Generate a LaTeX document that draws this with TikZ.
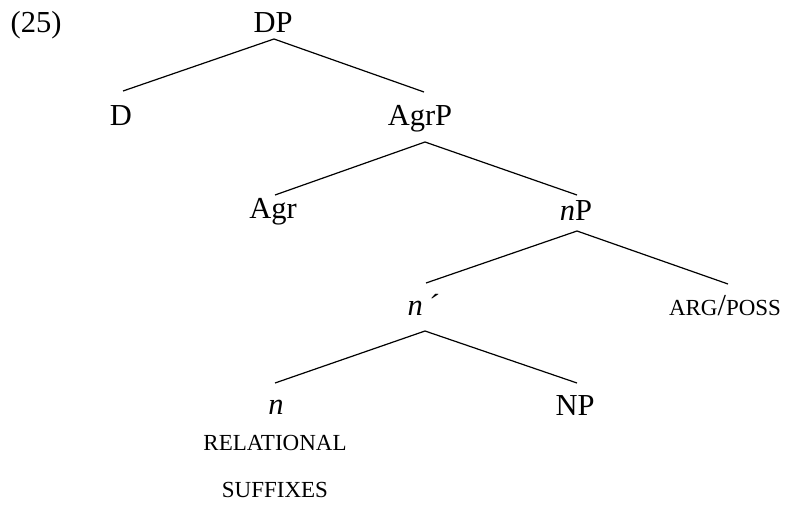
\documentclass[tikz,border=0pt]{standalone}
\usepackage{fontspec}
\setmainfont{Liberation Serif}
% small capitals set as reduced capitals
\newcommand{\smallcapstext}[1]{{\fontsize{23}{27}\selectfont\MakeUppercase{#1}}}
\begin{document}
\begin{tikzpicture}[x=1pt,y=-1pt,
  lbl/.style={inner sep=0pt,anchor=base,font=\fontsize{30.5}{36}\selectfont},
  branch/.style={line width=1.2pt,black}]
\useasboundingbox (0,0) rectangle (786,506);

% example number
\node[lbl] (ex) at (36,32) {(25)};

% tree labels
\node[lbl] (DP)   at (273,32)  {DP};
\node[lbl] (D)    at (121,125) {D};
\node[lbl] (AgrP) at (420,125) {AgrP};
\node[lbl] (Agr)  at (273,218) {Agr};
\node[lbl] (nP)   at (576,220) {\textit{n}P};
\node[lbl] (nbar) at (423,315) {\textit{n\,´}};
\node[lbl] (arg)  at (725,315) {\smallcapstext{arg}/\smallcapstext{poss}};
\node[lbl] (n)    at (276,414) {\textit{n}};
\node[lbl] (NP)   at (575,415) {NP};
\node[lbl] (rel)  at (275,450) {\smallcapstext{relational}};
\node[lbl] (suf)  at (275,497) {\smallcapstext{suffixes}};

% branches
\draw[branch] ([xshift=1pt,yshift=-7pt]DP.base)    -- ([xshift=2pt,yshift=34pt]D.base);
\draw[branch] ([xshift=1pt,yshift=-7pt]DP.base)    -- ([xshift=4pt,yshift=33pt]AgrP.base);
\draw[branch] ([xshift=5pt,yshift=-17pt]AgrP.base) -- ([xshift=2pt,yshift=23pt]Agr.base);
\draw[branch] ([xshift=5pt,yshift=-17pt]AgrP.base) -- ([xshift=1pt,yshift=25pt]nP.base);
\draw[branch] ([xshift=1pt,yshift=-11pt]nP.base)   -- ([xshift=3pt,yshift=32pt]nbar.base);
\draw[branch] ([xshift=1pt,yshift=-11pt]nP.base)   -- ([xshift=3pt,yshift=31pt]arg.base);
\draw[branch] ([xshift=2pt,yshift=-16pt]nbar.base) -- ([xshift=-1pt,yshift=31pt]n.base);
\draw[branch] ([xshift=2pt,yshift=-16pt]nbar.base) -- ([xshift=2pt,yshift=32pt]NP.base);
\end{tikzpicture}
\end{document}
